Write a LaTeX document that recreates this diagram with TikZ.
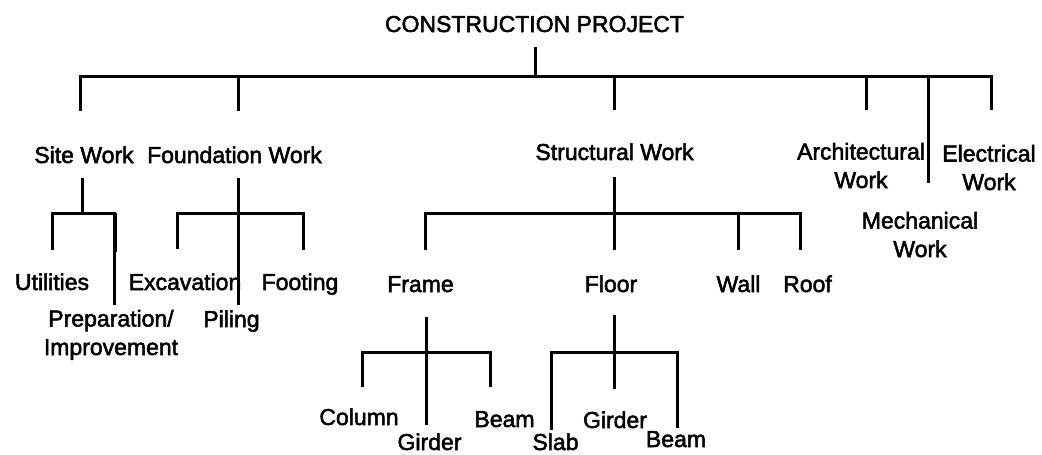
\documentclass[tikz,border=0pt]{standalone}
\usepackage{fontspec}
\setmainfont{Liberation Sans}
\newfontfamily\lblfont[FakeBold=2.2]{Liberation Sans}
\begin{document}
\begin{tikzpicture}[x=1pt,y=-1pt,
  lbl/.style={anchor=base, inner sep=0pt, font=\lblfont\fontsize{23}{28.5}\selectfont, align=center},
  link/.style={line width=3pt, line join=miter, line cap=butt}]
\useasboundingbox (0,0) rectangle (1042,455);

% ---- labels (multi-line labels sit on the baseline of their last line) ----
\node[lbl] (root)   at (534.5,32) {CONSTRUCTION PROJECT};

\node[lbl] (site)   at (84,163)   {Site Work};
\node[lbl] (found)  at (234.5,163) {Foundation Work};
\node[lbl] (struct) at (614.5,160) {Structural Work};
\node[lbl] (arch)   at (861,188)  {Architectural\\Work};
\node[lbl] (elec)   at (989,190)  {Electrical\\Work};
\node[lbl] (mech)   at (920,257)  {Mechanical\\Work};

\node[lbl] (util)   at (52,290)   {Utilities};
\node[lbl] (prep)   at (111,355)  {Preparation/\\Improvement};
\node[lbl] (excav)  at (185,290)  {Excavation};
\node[lbl] (foot)   at (300,290)  {Footing};
\node[lbl] (pile)   at (231.5,327) {Piling};

\node[lbl] (frame)  at (420.5,292) {Frame};
\node[lbl] (floor)  at (611,292)  {Floor};
\node[lbl] (wall)   at (738.5,292) {Wall};
\node[lbl] (roof)   at (807.5,292) {Roof};

\node[lbl] (col)    at (359,425)  {Column};
\node[lbl] (frgird) at (429.5,450) {Girder};
\node[lbl] (frbeam) at (504.5,427) {Beam};
\node[lbl] (slab)   at (555.5,450) {Slab};
\node[lbl] (flgird) at (615,428)  {Girder};
\node[lbl] (flbeam) at (676,447)  {Beam};

% ---- connector end points ----
\coordinate (rootstem) at (535,47);
\coordinate (bar0)     at (535,76);
\coordinate (d-site)   at (80,111);
\coordinate (d-found)  at (238,111);
\coordinate (d-struct) at (614,110);
\coordinate (d-arch)   at (866,110);
\coordinate (d-mech)   at (928,183);
\coordinate (d-elec)   at (991,110);

\coordinate (s-stem) at (82,178);
\coordinate (s-bar)  at (82,213);
\coordinate (s-l)    at (52,250);
\coordinate (s-r)    at (114,305);
\coordinate (s-rk)   at (114.8,252);

\coordinate (f-stem) at (238,178);
\coordinate (f-bar)  at (238,213);
\coordinate (f-end)  at (238,305);
\coordinate (f-l)    at (177,249);
\coordinate (f-r)    at (303,250);

\coordinate (t-stem) at (614,177);
\coordinate (t-bar)  at (614,213);
\coordinate (t-end)  at (614,250);
\coordinate (t-l)    at (425,250);
\coordinate (t-w)    at (738,250);
\coordinate (t-r)    at (800,250);

\coordinate (fr-stem) at (426,317);
\coordinate (fr-bar)  at (426,352);
\coordinate (fr-end)  at (426,425);
\coordinate (fr-l)    at (362,387);
\coordinate (fr-r)    at (490,387);

\coordinate (fl-stem) at (614,315);
\coordinate (fl-bar)  at (614,352);
\coordinate (fl-end)  at (614,389);
\coordinate (fl-l)    at (551,430);
\coordinate (fl-r)    at (677,428);

% ---- connectors ----
% project level
\draw[link] (rootstem) -- (bar0);
\draw[link] (d-site) -- (d-site |- bar0) -- (d-elec |- bar0) -- (d-elec);
\draw[link] (d-found |- bar0) -- (d-found);
\draw[link] (d-struct |- bar0) -- (d-struct);
\draw[link] (d-arch |- bar0) -- (d-arch);
\draw[link] (d-mech |- bar0) -- (d-mech);

% site work
\draw[link] (s-stem) -- (s-bar);
\draw[link] (s-l) -- (s-l |- s-bar) -- (s-r |- s-bar) -- (s-r);
\draw[link, line width=4.4pt] (s-rk |- s-bar) -- (s-rk);

% foundation work
\draw[link] (f-stem) -- (f-end);
\draw[link] (f-l) -- (f-l |- f-bar) -- (f-r |- f-bar) -- (f-r);

% structural work
\draw[link] (t-stem) -- (t-end);
\draw[link] (t-l) -- (t-l |- t-bar) -- (t-r |- t-bar) -- (t-r);
\draw[link] (t-w |- t-bar) -- (t-w);

% frame
\draw[link] (fr-stem) -- (fr-end);
\draw[link] (fr-l) -- (fr-l |- fr-bar) -- (fr-r |- fr-bar) -- (fr-r);

% floor
\draw[link] (fl-stem) -- (fl-end);
\draw[link] (fl-l) -- (fl-l |- fl-bar) -- (fl-r |- fl-bar) -- (fl-r);
\end{tikzpicture}
\end{document}
